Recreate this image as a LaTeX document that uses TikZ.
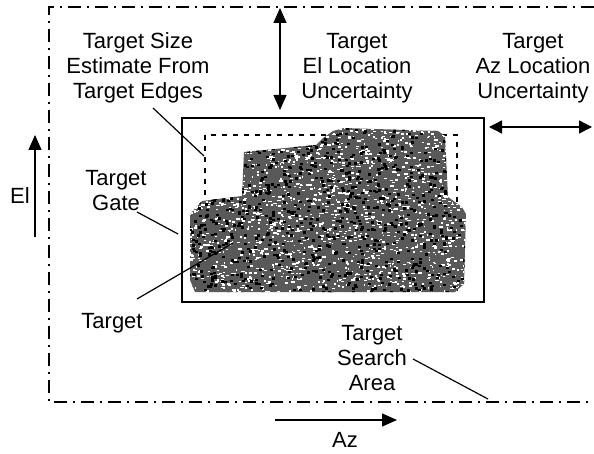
\documentclass[tikz,border=0pt]{standalone}
\usepackage{fontspec}
\setmainfont{Liberation Sans}
\usetikzlibrary{arrows.meta}

\begin{document}
\begin{tikzpicture}[x=1pt,y=-1pt,
  lbl/.style={align=center,inner sep=0pt,font=\fontsize{22}{25}\selectfont},
  leader/.style={black,line width=1.2pt},
  dashdot/.style={black,line width=1.6pt,dash pattern=on 13pt off 6pt on 2pt off 6pt},
  bigtip/.style={-{Triangle[length=15pt,width=13pt]},line width=1.3pt}]
\useasboundingbox (0,0) rectangle (594,454);
\draw[dashdot] (594,7) -- (49,7) -- (49,402) -- (594,402);
\draw[black,line width=1.4pt,dash pattern=on 5pt off 6pt] (205,135) rectangle (457,290);
\begin{scope}
\path[clip] (244,152) -- (316,145) -- (323,138) -- (333,131) -- (344,128) -- (438,131) -- (445,136)
  -- (448,197) -- (462,207) -- (466,214) -- (464,284) -- (455,292) -- (195,292) -- (190,280)
  -- (190,214) -- (202,201) -- (242,196) -- cycle;
\fill[black!65] (180,120) rectangle (470,300);
\pgfmathsetseed{11}
\foreach \i in {1,...,1800} {
  \pgfmathsetmacro\px{186+282*rnd}
  \pgfmathsetmacro\py{124+172*rnd}
  \pgfmathsetmacro\pw{1.2+2.4*rnd}
  \fill[white] (\px,\py) rectangle +(\pw,1.5);
}
\foreach \i in {1,...,900} {
  \pgfmathsetmacro\px{186+282*rnd}
  \pgfmathsetmacro\py{124+172*rnd}
  \fill[black] (\px,\py) rectangle +(3,2.4);
}
\end{scope}
\draw[black,line width=1.6pt] (182,118) rectangle (484,302);
\node[lbl] (sizeest) at (138,68) {Target Size\\Estimate From\\Target Edges};
\node[lbl] (elunc) at (357,68) {Target\\El Location\\Uncertainty};
\node[lbl] (azunc) at (533,68) {Target\\Az Location\\Uncertainty};
\node[lbl] (gate) at (116,191) {Target\\Gate};
\node[lbl] (target) at (112,323) {Target};
\node[lbl] (search) at (372,358) {Target\\Search\\Area};
\node[lbl] (ellbl) at (20,196) {El};
\node[lbl] (azlbl) at (345,440) {Az};
\coordinate (sizebeg) at (153,108);
\coordinate (sizeend) at (204,156);
\coordinate (gatebeg) at (137,212);
\coordinate (gateend) at (178,234);
\coordinate (tgtbeg) at (137,299);
\coordinate (tgtend) at (233,243);
\coordinate (searchbeg) at (413,359);
\coordinate (searchend) at (488,399);
\coordinate (elt) at (280,8);
\coordinate (elb) at (280,110);
\coordinate (azl) at (489,127);
\coordinate (azr) at (592,127);
\coordinate (elax0) at (35,237);
\coordinate (elax1) at (35,135);
\coordinate (azax0) at (275,420);
\coordinate (azax1) at (397,420);
\draw[leader] (sizebeg) -- (sizeend);
\draw[leader] (gatebeg) -- (gateend);
\draw[leader] (tgtbeg) -- (tgtend);
\draw[leader] (searchbeg) -- (searchend);
\draw[bigtip,{Triangle[length=15pt,width=13pt]}-{Triangle[length=15pt,width=13pt]}] (elt) -- (elb);
\draw[bigtip,{Triangle[length=13pt,width=13pt]}-{Triangle[length=13pt,width=13pt]}] (azl) -- (azr);
\draw[bigtip] (elax0) -- (elax1);
\draw[bigtip] (azax0) -- (azax1);
\end{tikzpicture}
\end{document}
